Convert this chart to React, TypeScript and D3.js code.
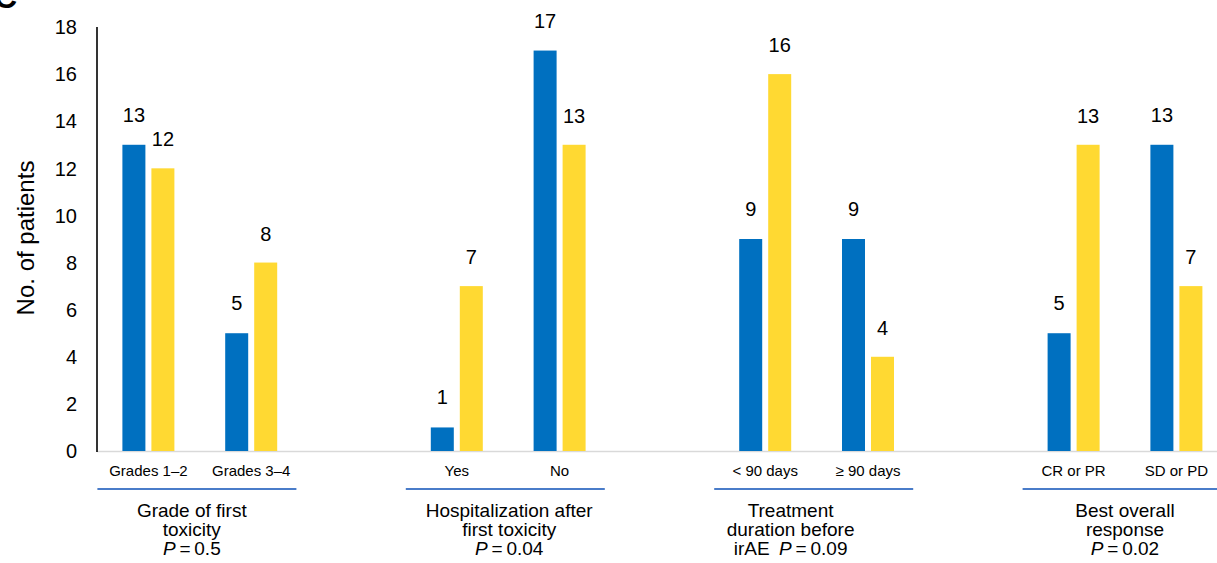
import React from "react";
import * as d3 from "d3";

const categories = ["Grades 1\u20132", "Grades 3\u20134", "gap1", "Yes", "No", "gap2", "< 90 days", "\u2265 90 days", "gap3", "CR or PR", "SD or PD"];
const barCategories = ["Grades 1\u20132", "Grades 3\u20134", "Yes", "No", "< 90 days", "\u2265 90 days", "CR or PR", "SD or PD"];
const blueValues = [13, 5, 1, 17, 9, 9, 5, 13];
const yellowValues = [12, 8, 7, 13, 16, 4, 13, 7];
const yTicks = [0, 2, 4, 6, 8, 10, 12, 14, 16, 18];
const groupFirst = ["Grades 1\u20132", "Yes", "< 90 days", "CR or PR"];
const groupLast = ["Grades 3\u20134", "No", "\u2265 90 days", "SD or PD"];
const groupTitles = [["Grade of first", "toxicity"], ["Hospitalization after", "first toxicity"], ["Treatment", "duration before"], ["Best overall", "response"]];
const groupPrefix = ["", "", "irAE", ""];
const groupP = ["0.5", "0.04", "0.09", "0.02"];

// layout-only offsets of the title blocks relative to the group centre
const titleOffsets = [-8, 1, -26, 0];

const W = 1217;
const H = 563;
const BLUE = "#0070C0";
const YELLOW = "#FFD932";
const FONT = "Liberation Sans, Arial, sans-serif";

export default function App() {
  const x = d3.scaleBand<string>().domain(categories).range([97, 97 + 11 * 102.8]).paddingInner(0).paddingOuter(0);
  const y = d3.scaleLinear().domain([0, 18]).range([451, 27]);
  const barW = 23;
  const gap = 6;
  const center = (c: string) => (x(c) as number) + x.bandwidth() / 2;

  return (
    <svg width={W} height={H} style={{ position: "absolute", left: 0, top: 0, background: "#fff" }} fontFamily={FONT}>
      {/* panel letter, cut off as in the source */}
      <text x={-6} y={8} fontSize={32} fontWeight="bold" fill="#000">C</text>

      {/* baseline */}
      <line x1={97} x2={W} y1={y(0) + 0.5} y2={y(0) + 0.5} stroke="#D9D9D9" strokeWidth={1.5} />
      {/* y axis */}
      <line x1={97} x2={97} y1={y(18)} y2={y(0) + 1} stroke="#000" strokeWidth={1.6} />

      {yTicks.map((t) => (
        <text key={t} x={77} y={y(t)} dy="0.36em" textAnchor="end" fontSize={20} fill="#000">{t}</text>
      ))}
      <text transform={`translate(34, ${y(9) - 1}) rotate(-90)`} textAnchor="middle" fontSize={24} fill="#000">No. of patients</text>

      {barCategories.map((c, i) => {
        const cx = center(c);
        const bx = cx - gap / 2 - barW;
        const yx = cx + gap / 2;
        return (
          <g key={c}>
            <rect x={bx} y={y(blueValues[i])} width={barW} height={y(0) - y(blueValues[i])} fill={BLUE} />
            <rect x={yx} y={y(yellowValues[i])} width={barW} height={y(0) - y(yellowValues[i])} fill={YELLOW} />
            <text x={bx + barW / 2} y={y(blueValues[i]) - 23} textAnchor="middle" fontSize={20} fill="#000">{blueValues[i]}</text>
            <text x={yx + barW / 2} y={y(yellowValues[i]) - 22} textAnchor="middle" fontSize={20} fill="#000">{yellowValues[i]}</text>
            <text x={cx} y={476} textAnchor="middle" fontSize={15} fill="#000">{c}</text>
          </g>
        );
      })}

      {groupFirst.map((first, gi) => {
        const c1 = center(first);
        const c2 = center(groupLast[gi]);
        const mid = (c1 + c2) / 2;
        const lx1 = c1 - 51;
        const lx2 = lx1 + 199;
        const tc = mid + titleOffsets[gi];
        return (
          <g key={gi}>
            <line x1={lx1} x2={lx2} y1={489} y2={489} stroke="#4A7CC9" strokeWidth={2} />
            {groupTitles[gi].map((l, li) => (
              <text key={li} x={tc} y={517 + li * 19} textAnchor="middle" fontSize={19} fill="#000">{l}</text>
            ))}
            <text x={tc} y={555} textAnchor="middle" fontSize={19} fill="#000">
              {groupPrefix[gi] ? <tspan>{groupPrefix[gi] + "\u2002"}</tspan> : null}
              <tspan fontStyle="italic">P</tspan>
              <tspan>{"\u2009=\u2009" + groupP[gi]}</tspan>
            </text>
          </g>
        );
      })}
    </svg>
  );
}
